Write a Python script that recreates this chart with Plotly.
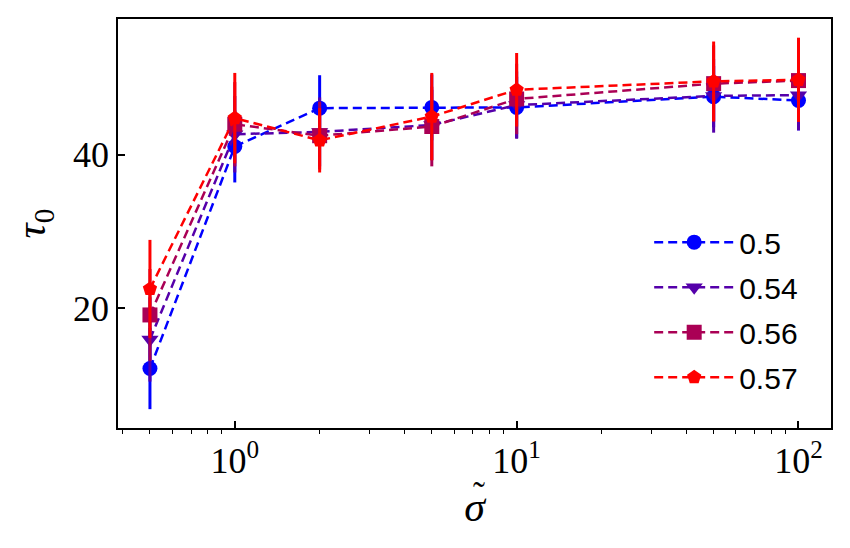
import plotly.graph_objects as go

sigma = [0.5, 1, 2, 5, 10, 50, 100]
labels = ["0.5", "0.54", "0.56", "0.57"]
tau_05 = [12.1, 41.1, 46.1, 46.2, 46.2, 47.6, 47.1]
err_05 = [5.3, 4.7, 4.3, 4.3, 4.0, 4.0, 3.9]
tau_054 = [15.9, 42.7, 43.0, 43.9, 46.5, 47.7, 47.8]
err_054 = [5.5, 5.0, 4.5, 4.6, 4.4, 4.8, 4.6]
tau_056 = [19.1, 44.0, 42.5, 43.7, 47.3, 49.3, 49.7]
err_056 = [6.0, 5.5, 4.4, 5.2, 4.6, 5.0, 5.2]
tau_057 = [22.5, 44.8, 41.9, 45.0, 48.5, 49.6, 49.8]
err_057 = [6.4, 5.9, 4.2, 5.7, 4.8, 5.2, 5.5]

series = [tau_05, tau_054, tau_056, tau_057]
errors = [err_05, err_054, err_056, err_057]
colors = ["#0000ff", "#5500aa", "#aa0055", "#ff0000"]
symbols = ["circle", "triangle-down", "square", "pentagon"]

fig = go.Figure()
for i in range(4):
    fig.add_trace(go.Scatter(
        x=sigma, y=series[i], name=labels[i], mode="lines+markers",
        legendgroup=labels[i],
        line=dict(color=colors[i], width=2.5, dash="9px,5px"),
        marker=dict(color=colors[i], symbol=symbols[i], size=15, line=dict(width=0)),
        error_y=dict(type="data", array=errors[i], color=colors[i], thickness=3, width=0),
    ))

major = [1, 10, 100]
minor_vals = [m * d for d in [0.1, 1, 10] for m in range(2, 10)]
minor_vals = [v for v in minor_vals if 0.38 < v < 131]

fig.update_layout(
    width=850, height=548,
    margin=dict(l=118, r=19, t=19, b=120),
    paper_bgcolor="white", plot_bgcolor="white",
    showlegend=True,
    legend=dict(x=0.745, y=0.518, xanchor="left", yanchor="top",
                font=dict(family="Liberation Sans", size=30, color="black"),
                bgcolor="rgba(0,0,0,0)", tracegroupgap=3, itemwidth=80),
    xaxis=dict(type="log", range=[-0.4144, 2.1154],
               tickvals=major,
               ticktext=["10<sup>0</sup>", "10<sup>1</sup>", "10<sup>2</sup>"],
               ticks="inside", ticklen=7, tickwidth=1.5, tickcolor="black",
               minor=dict(tickvals=minor_vals, ticks="outside", ticklen=4,
                          tickwidth=1, tickcolor="black", showgrid=False),
               showline=True, linecolor="black", linewidth=1.5, mirror=True,
               showgrid=False, zeroline=False,
               tickfont=dict(family="Liberation Serif", size=36, color="black"),
               title=dict(text="<i>σ</i>", standoff=12,
                          font=dict(family="Liberation Serif", size=42, color="black"))),
    yaxis=dict(range=[4.34, 57.74], tickvals=[20, 40],
               ticks="inside", ticklen=7, tickwidth=1.5, tickcolor="black",
               showline=True, linecolor="black", linewidth=1.5, mirror=True,
               showgrid=False, zeroline=False,
               tickfont=dict(family="Liberation Serif", size=36, color="black"),
               title=dict(text="<i>τ</i><sub>0</sub>", standoff=14,
                          font=dict(family="Liberation Serif", size=42, color="black"))),
)

fig.add_annotation(text="˜", xref="paper", yref="paper", x=0.507, y=-0.165,
                   showarrow=False, xanchor="center", yanchor="middle",
                   font=dict(family="Liberation Serif", size=36, color="black"))

fig.write_html("out.html")
